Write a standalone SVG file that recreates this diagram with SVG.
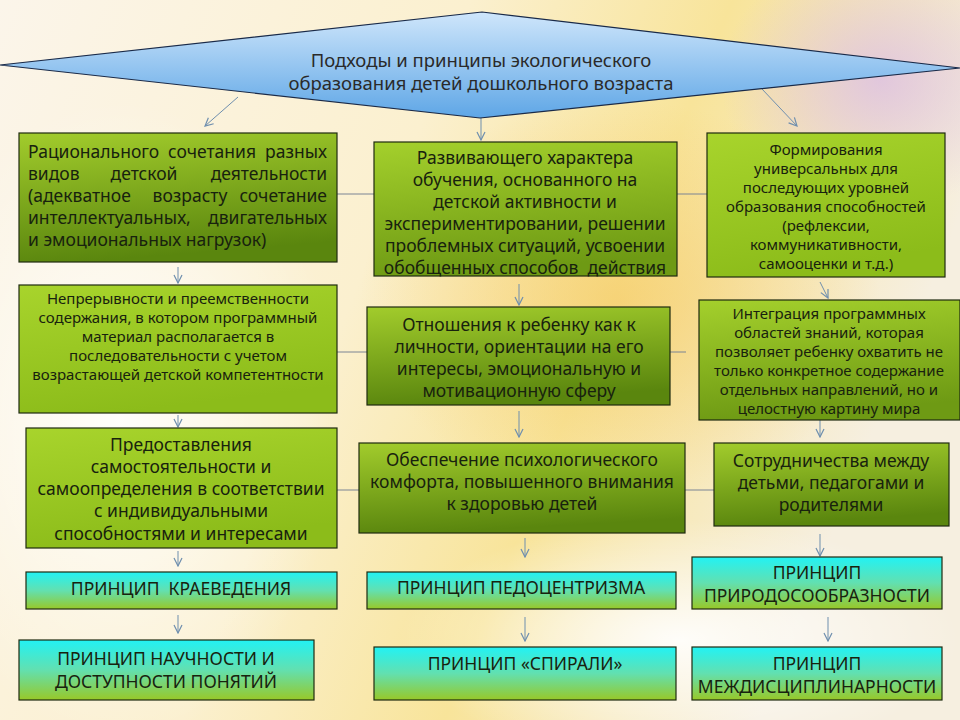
<svg xmlns="http://www.w3.org/2000/svg" width="960" height="720" viewBox="0 0 960 720">
<defs>
<linearGradient id="bg" x1="0" y1="0" x2="1" y2="0.3">
<stop offset="0" stop-color="#fbf5ea"/>
<stop offset="0.45" stop-color="#fbf0cf"/>
<stop offset="0.7" stop-color="#f8e49a"/>
<stop offset="1" stop-color="#f6efe0"/>
</linearGradient>
<radialGradient id="glow1" cx="0.5" cy="0.5" r="0.5">
<stop offset="0" stop-color="#ffffff" stop-opacity="0.9"/>
<stop offset="1" stop-color="#ffffff" stop-opacity="0"/>
</radialGradient>
<radialGradient id="glow2" cx="0.5" cy="0.5" r="0.5">
<stop offset="0" stop-color="#d8b8e8" stop-opacity="0.7"/>
<stop offset="1" stop-color="#d8b8e8" stop-opacity="0"/>
</radialGradient>
<radialGradient id="glow3" cx="0.5" cy="0.5" r="0.5">
<stop offset="0" stop-color="#f5c860" stop-opacity="0.6"/>
<stop offset="1" stop-color="#f5c860" stop-opacity="0"/>
</radialGradient>
<linearGradient id="dia" x1="0" y1="0" x2="0" y2="1">
<stop offset="0" stop-color="#cfe6fb"/>
<stop offset="1" stop-color="#5ea6e6"/>
</linearGradient>
<linearGradient id="gBright" x1="0" y1="0" x2="0.3" y2="1">
<stop offset="0" stop-color="#a8d42c"/>
<stop offset="1" stop-color="#8cbc1a"/>
</linearGradient>
<linearGradient id="gOlive" x1="0" y1="0" x2="0.2" y2="1">
<stop offset="0" stop-color="#a2cc2c"/>
<stop offset="1" stop-color="#5a860e"/>
</linearGradient>
<linearGradient id="gMid" x1="0" y1="0" x2="0.2" y2="1">
<stop offset="0" stop-color="#a4d02c"/>
<stop offset="1" stop-color="#6e9a14"/>
</linearGradient>
<linearGradient id="gCyan" x1="0" y1="0" x2="0" y2="1">
<stop offset="0" stop-color="#22f2f4"/>
<stop offset="0.5" stop-color="#62e0b0"/>
<stop offset="1" stop-color="#98c828"/>
</linearGradient>
<marker id="arr" viewBox="0 0 10 10" refX="9" refY="5" markerWidth="10" markerHeight="10" markerUnits="userSpaceOnUse" orient="auto">
<path d="M1,1 L9,5 L1,9" fill="none" stroke="#6f8fae" stroke-width="1.2"/>
</marker>
</defs>
<style>
.box{stroke:#1e2a10;stroke-width:1.2}
.t{font-family:"Noto Sans","DejaVu Sans",sans-serif;fill:#18220e;text-anchor:middle;white-space:pre}
.s15{font-size:17.5px}
.s13{font-size:15px}
.tl{text-anchor:start}
.te{text-anchor:end}
.con line{stroke:#6f8fae;stroke-width:1;fill:none}
.con .a{marker-end:url(#arr)}
.con .h{stroke:#7a8494}
</style>
<rect width="960" height="720" fill="url(#bg)"/>
<ellipse cx="120" cy="420" rx="220" ry="320" fill="url(#glow1)"/>
<ellipse cx="880" cy="80" rx="160" ry="130" fill="url(#glow2)"/>
<ellipse cx="620" cy="300" rx="260" ry="200" fill="url(#glow3)"/>
<ellipse cx="680" cy="640" rx="280" ry="120" fill="url(#glow1)"/>

<g id="connectors" class="con">
<line class="a" x1="238" y1="97" x2="205" y2="126"/>
<line class="a" x1="481" y1="118" x2="481" y2="140"/>
<line class="a" x1="762" y1="89" x2="797" y2="126"/>
<line class="h" x1="337" y1="194" x2="707" y2="194"/>
<line class="h" x1="337" y1="352" x2="686" y2="352"/>
<line class="h" x1="337" y1="490" x2="714" y2="490"/>
<line class="a" x1="178" y1="267" x2="178" y2="283"/>
<line class="a" x1="519" y1="284" x2="519" y2="305"/>
<line class="a" x1="820" y1="282" x2="828" y2="298"/>
<line class="a" x1="178" y1="415" x2="178" y2="427"/>
<line class="a" x1="519" y1="411" x2="519" y2="437"/>
<line class="a" x1="820" y1="420" x2="820" y2="437"/>
<line class="a" x1="178" y1="551" x2="178" y2="566"/>
<line class="a" x1="525" y1="538" x2="525" y2="557"/>
<line class="a" x1="820" y1="534" x2="820" y2="556"/>
<line class="a" x1="178" y1="615" x2="178" y2="633"/>
<line class="a" x1="525" y1="617" x2="525" y2="641"/>
<line class="a" x1="828" y1="617" x2="828" y2="641"/>
</g>

<g id="title">
<polygon points="0,65 482,12 960,68 480,118" fill="url(#dia)" stroke="#1a2a48" stroke-width="1.2"/>
<text class="t" x="481" y="67" style="font-size:18.5px;fill:#2a2a2a">Подходы и принципы экологического</text>
<text class="t" x="481" y="90" style="font-size:18.5px;fill:#2a2a2a">образования детей дошкольного возраста</text>
</g>

<g id="n1">
<rect class="box" x="19" y="133" width="318" height="129" fill="url(#gOlive)"/>
<text class="t s15" y="158"><tspan class="tl" x="28">Рационального</tspan><tspan x="212">сочетания</tspan><tspan class="te" x="327">разных</tspan></text>
<text class="t s15" y="180"><tspan class="tl" x="28">видов</tspan><tspan x="144">детской</tspan><tspan class="te" x="327">деятельности</tspan></text>
<text class="t s15" y="202"><tspan class="tl" x="28">(адекватное</tspan><tspan x="190">возрасту</tspan><tspan class="te" x="327">сочетание</tspan></text>
<text class="t s15" y="224"><tspan class="tl" x="28">интеллектуальных,</tspan><tspan class="te" x="327">двигательных</tspan></text>
<text class="t s15 tl" x="28" y="246">и эмоциональных нагрузок)</text>
</g>

<g id="n2">
<rect class="box" x="374" y="142" width="303" height="134" fill="url(#gMid)"/>
<text class="t s15" x="525" y="164">Развивающего характера</text>
<text class="t s15" x="525" y="186">обучения, основанного на</text>
<text class="t s15" x="525" y="208">детской активности и</text>
<text class="t s15" x="525" y="230">экспериментировании, решении</text>
<text class="t s15" x="525" y="252">проблемных ситуаций, усвоении</text>
<text class="t s15" x="525" y="274">обобщенных способов  действия</text>
</g>

<g id="n3">
<rect class="box" x="707" y="133" width="238" height="144" fill="url(#gBright)"/>
<text class="t s13" x="826" y="155">Формирования</text>
<text class="t s13" x="826" y="174">универсальных для</text>
<text class="t s13" x="826" y="193">последующих уровней</text>
<text class="t s13" x="826" y="212">образования способностей</text>
<text class="t s13" x="826" y="231">(рефлексии,</text>
<text class="t s13" x="826" y="250">коммуникативности,</text>
<text class="t s13" x="826" y="269">самооценки и т.д.)</text>
</g>

<g id="n4">
<rect class="box" x="19" y="285" width="318" height="128" fill="url(#gBright)"/>
<text class="t s13" x="178" y="304">Непрерывности и преемственности</text>
<text class="t s13" x="178" y="323">содержания, в котором программный</text>
<text class="t s13" x="178" y="342">материал располагается в</text>
<text class="t s13" x="178" y="361">последовательности с учетом</text>
<text class="t s13" x="178" y="380">возрастающей детской компетентности</text>
</g>

<g id="n5">
<rect class="box" x="367" y="307" width="303" height="98" fill="url(#gOlive)"/>
<text class="t s15" x="519" y="331">Отношения к ребенку как к</text>
<text class="t s15" x="519" y="353">личности, ориентации на его</text>
<text class="t s15" x="519" y="375">интересы, эмоциональную и</text>
<text class="t s15" x="519" y="397">мотивационную сферу</text>
</g>

<g id="n6">
<rect class="box" x="699" y="300" width="261" height="120" fill="url(#gMid)"/>
<text class="t s13" x="829" y="319">Интеграция программных</text>
<text class="t s13" x="829" y="338">областей знаний, которая</text>
<text class="t s13" x="829" y="357">позволяет ребенку охватить не</text>
<text class="t s13" x="829" y="376">только конкретное содержание</text>
<text class="t s13" x="829" y="395">отдельных направлений, но и</text>
<text class="t s13" x="829" y="414">целостную картину мира</text>
</g>

<g id="n7">
<rect class="box" x="26" y="428" width="311" height="120" fill="url(#gBright)"/>
<text class="t s15" x="181" y="451">Предоставления</text>
<text class="t s15" x="181" y="473">самостоятельности и</text>
<text class="t s15" x="181" y="495">самоопределения в соответствии</text>
<text class="t s15" x="181" y="517">с индивидуальными</text>
<text class="t s15" x="181" y="540">способностями и интересами</text>
</g>

<g id="n8">
<rect class="box" x="359" y="443" width="326" height="90" fill="url(#gOlive)"/>
<text class="t s15" x="522" y="466">Обеспечение психологического</text>
<text class="t s15" x="522" y="488">комфорта, повышенного внимания</text>
<text class="t s15" x="522" y="510">к здоровью детей</text>
</g>

<g id="n9">
<rect class="box" x="714" y="443" width="235" height="83" fill="url(#gOlive)"/>
<text class="t s15" x="831" y="467">Сотрудничества между</text>
<text class="t s15" x="831" y="489">детьми, педагогами и</text>
<text class="t s15" x="831" y="511">родителями</text>
</g>

<g id="n10">
<rect class="box" x="26" y="572" width="311" height="37" fill="url(#gCyan)"/>
<text class="t s15" x="181" y="595">ПРИНЦИП  КРАЕВЕДЕНИЯ</text>
</g>

<g id="n11">
<rect class="box" x="367" y="572" width="309" height="37" fill="url(#gCyan)"/>
<text class="t s15" x="521" y="594">ПРИНЦИП ПЕДОЦЕНТРИЗМА</text>
</g>

<g id="n12">
<rect class="box" x="692" y="557" width="250" height="52" fill="url(#gCyan)"/>
<text class="t s15" x="817" y="579">ПРИНЦИП</text>
<text class="t s15" x="817" y="602">ПРИРОДОСООБРАЗНОСТИ</text>
</g>

<g id="n13">
<rect class="box" x="19" y="640" width="295" height="60" fill="url(#gCyan)"/>
<text class="t s15" x="166" y="665">ПРИНЦИП НАУЧНОСТИ И</text>
<text class="t s15" x="166" y="688">ДОСТУПНОСТИ ПОНЯТИЙ</text>
</g>

<g id="n14">
<rect class="box" x="374" y="647" width="302" height="53" fill="url(#gCyan)"/>
<text class="t s15" x="525" y="670">ПРИНЦИП «СПИРАЛИ»</text>
</g>

<g id="n15">
<rect class="box" x="692" y="647" width="250" height="53" fill="url(#gCyan)"/>
<text class="t s15" x="817" y="670">ПРИНЦИП</text>
<text class="t s15" x="817" y="693">МЕЖДИСЦИПЛИНАРНОСТИ</text>
</g>
</svg>
